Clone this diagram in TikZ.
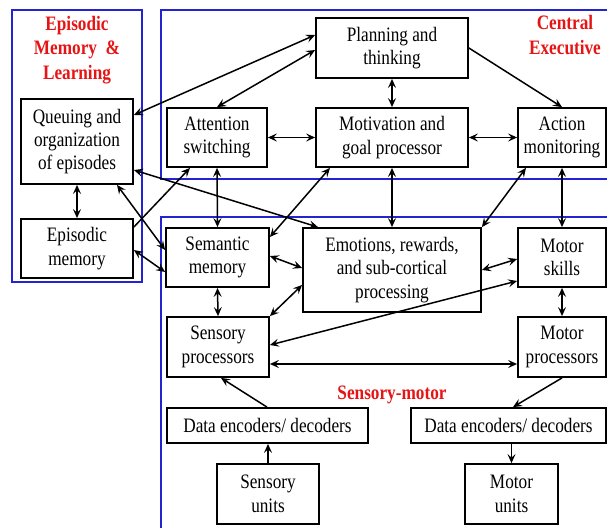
\documentclass[tikz,border=0pt]{standalone}
\usepackage{fontspec}
\setmainfont[FakeStretch=0.84]{Liberation Serif}
\usetikzlibrary{arrows.meta}
\definecolor{frameblue}{RGB}{35,35,210}
\definecolor{labelred}{RGB}{230,20,20}
\tikzset{
  box/.style={draw=black, line width=1.8pt, inner sep=0pt, align=center,
    font=\fontsize{20.5}{23.4}\selectfont},
  grp/.style={draw=frameblue, line width=1.8pt},
  grplabel/.style={text=labelred, align=center, inner sep=0pt,
    font=\fontsize{20.5}{24.5}\selectfont\bfseries},
  conn/.style={line width=1.5pt},
  dbl/.style={conn, {Stealth[length=9pt,width=8pt,inset=3.5pt]}-{Stealth[length=9pt,width=8pt,inset=3.5pt]}},
  one/.style={conn, -{Stealth[length=9pt,width=8pt,inset=3.5pt]}},
}
\begin{document}
\begin{tikzpicture}[x=1pt,y=-1pt]
\useasboundingbox (0,0) rectangle (607,527);
\clip (0,0) rectangle (607,527);
% group frames
\draw[grp] (12,10) rectangle (142,282);
\draw[grp] (161,10) rectangle (620,179);
\draw[grp] (161,217) rectangle (620,540);
% group labels
\node[grplabel] (lepi) at (77,50) {Episodic\\Memory \ \&\\Learning};
\node[grplabel] (lce) at (565,35) {Central\\Executive};
\node[grplabel] (lsm) at (392,395) {Sensory-motor};
% nodes
\node[box, minimum width=112pt, minimum height=85pt] (queue) at (77,141.5) {Queuing and\\organization\\of episodes};
\node[box, minimum width=112pt, minimum height=59pt] (epis) at (77,248.5) {Episodic\\memory};
\node[box, minimum width=100pt, minimum height=59pt] (attn) at (217,137.5) {Attention\\switching};
\node[box, minimum width=152pt, minimum height=60pt] (plan) at (392,48) {Planning and\\thinking};
\node[box, minimum width=152pt, minimum height=59pt] (motiv) at (392,137.5) {Motivation and\\goal processor};
\node[box, minimum width=88pt, minimum height=59pt] (action) at (562,137.5) {Action\\monitoring};
\node[box, minimum width=103pt, minimum height=59pt] (sem) at (217.5,257.5) {Semantic\\memory};
\node[box, minimum width=178pt, minimum height=84pt] (emo) at (392,270) {Emotions, rewards,\\and sub-cortical\\processing};
\node[box, minimum width=88pt, minimum height=59pt] (mskill) at (562,257.5) {Motor\\skills};
\node[box, minimum width=102pt, minimum height=60pt] (sens) at (218,347) {Sensory\\processors};
\node[box, minimum width=88pt, minimum height=60pt] (mproc) at (562,347) {Motor\\processors};
\node[box, minimum width=201pt, minimum height=35pt] (denL) at (267.5,425.5) {Data encoders/ decoders};
\node[box, minimum width=195pt, minimum height=35pt] (denR) at (508.5,425.5) {Data encoders/ decoders};
\node[box, minimum width=102pt, minimum height=60pt] (sunits) at (268,494) {Sensory\\units};
\node[box, minimum width=93pt, minimum height=60pt] (munits) at (511.5,494) {Motor\\units};
% connectors
\draw[dbl] (queue.east |- 0,115) -- (plan.west |- 0,35);
\draw[dbl] (attn.north) -- (plan.west |- 0,50);
\draw[dbl] (attn.east) -- (motiv.west);
\draw[dbl] (motiv.east) -- (action.west);
\draw[dbl] (plan.south) -- (motiv.north);
\draw[one] (plan.east) -- (action.north);
\draw[dbl] (queue.south) -- (epis.north);
\draw[one] (epis.east |- 0,227) -- (attn.south -| 190,0);
\draw[dbl] (queue.south -| 117,0) -- (sem.west |- 0,250);
\draw[dbl] (epis.east |- 0,250) -- (sem.west |- 0,272);
\draw[dbl] (queue.east |- 0,170) -- (emo.north -| 318,0);
\draw[dbl] (attn.south) -- (sem.north);
\draw[dbl] (sem.east |- 0,237) -- (motiv.south -| 330,0);
\draw[dbl] (sem.east |- 0,256) -- (emo.west |- 0,268);
\draw[dbl] (sens.north east) -- (emo.west |- 0,285);
\draw[dbl] (sem.south) -- (sens.north);
\draw[dbl] (motiv.south) -- (emo.north);
\draw[dbl] (action.south -| 526,0) -- (emo.north east);
\draw[dbl] (action.south) -- (mskill.north);
\draw[dbl] (emo.east |- 0,270) -- (mskill.west |- 0,259);
\draw[dbl] (sens.east |- 0,345) -- (mskill.west |- 0,281);
\draw[dbl] (sens.east |- 0,364) -- (mproc.west |- 0,364);
\draw[dbl] (mskill.south) -- (mproc.north);
\draw[one] (denL.north -| 267,0) -- (sens.south -| 221,0);
\draw[one] (sunits.north) -- (sunits.north |- denL.south);
\draw[one] (mproc.south) -- (denR.north -| 513,0);
\draw[one] (munits.north |- denR.south) -- (munits.north);
\end{tikzpicture}
\end{document}
